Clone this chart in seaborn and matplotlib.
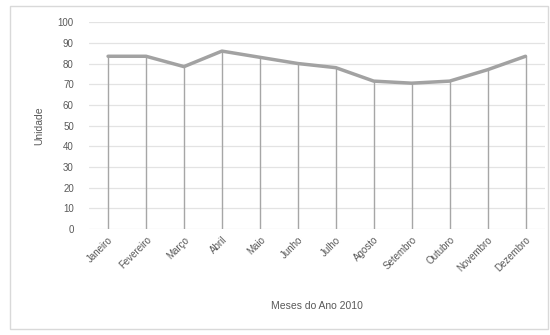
import pandas as pd
import matplotlib
matplotlib.use("Agg")
import matplotlib.pyplot as plt
import seaborn as sns
from matplotlib.patches import Rectangle

meses = ['Janeiro', 'Fevereiro', 'Março', 'Abril', 'Maio', 'Junho',
         'Julho', 'Agosto', 'Setembro', 'Outubro', 'Novembro', 'Dezembro']
unidades = [83.5, 83.5, 78.5, 86, 83, 80, 78, 71.5, 70.5, 71.5, 77, 83.5]

df = pd.DataFrame({'mes': meses, 'unidade': unidades})

sns.set_style('white')
plt.rcParams['font.family'] = ['Liberation Sans', 'DejaVu Sans']

fig, ax = plt.subplots(figsize=(5.5, 3.35), dpi=100)
fig.subplots_adjust(left=0.162, right=0.99, top=0.934, bottom=0.316)

# drop lines from each point down to zero
ax.vlines(df['mes'], 0, df['unidade'], color='#a6a6a6', linewidth=1.0, zorder=2)
sns.lineplot(data=df, x='mes', y='unidade', ax=ax, color='#a2a2a2',
             linewidth=2.5, sort=False, zorder=3)

ax.set_ylim(0, 100)
ax.set_xlim(-0.5, len(meses) - 0.5)
ax.set_yticks(range(0, 101, 10))
ax.yaxis.grid(True, color='#e3e3e3', linewidth=0.9)
ax.set_axisbelow(True)
for s in ax.spines.values():
    s.set_visible(False)

ax.tick_params(axis='both', length=0, labelsize=7, labelcolor='#595959')
ax.tick_params(axis='y', pad=11)
ax.tick_params(axis='x', pad=4)
plt.setp(ax.get_xticklabels(), rotation=45, ha='right', rotation_mode='anchor')
ax.set_xlabel('Meses do Ano 2010', fontsize=7.5, color='#595959', labelpad=20)
ax.set_ylabel('Unidade', fontsize=7.5, color='#595959', labelpad=10)

# outer chart border
fig.patches.append(Rectangle((10 / 550, 6 / 335), 538 / 550, 323 / 335,
                             transform=fig.transFigure, fill=False,
                             edgecolor='#d9d9d9', linewidth=1.0))

fig.savefig('out.png', dpi=100)
